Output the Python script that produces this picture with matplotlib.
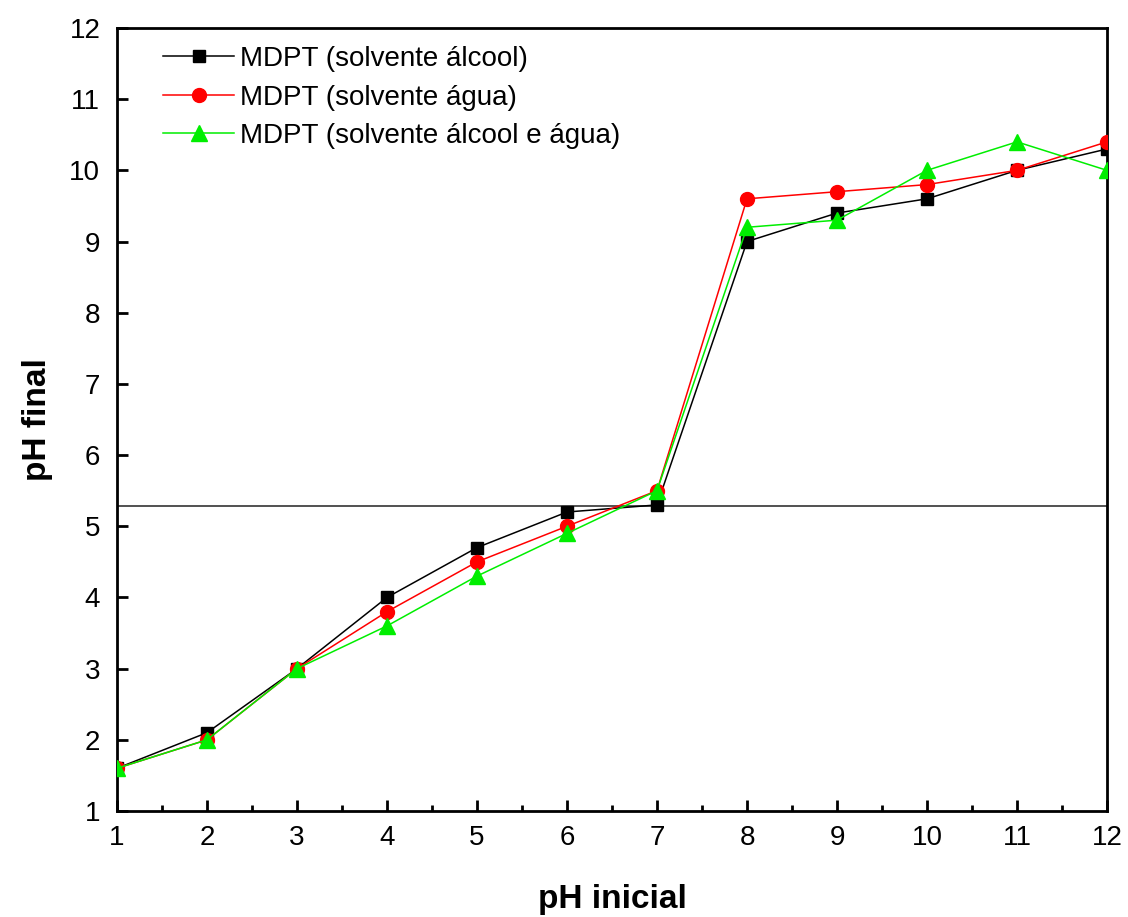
import matplotlib
matplotlib.use("Agg")
import matplotlib.pyplot as plt
from matplotlib.ticker import MultipleLocator

plt.rcParams['font.family'] = ['Liberation Sans', 'DejaVu Sans']

ph_inicial = [1, 2, 3, 4, 5, 6, 7, 8, 9, 10, 11, 12]
alcool = [1.6, 2.1, 3.0, 4.0, 4.7, 5.2, 5.3, 9.0, 9.4, 9.6, 10.0, 10.3]
agua = [1.6, 2.0, 3.0, 3.8, 4.5, 5.0, 5.5, 9.6, 9.7, 9.8, 10.0, 10.4]
alcool_agua = [1.6, 2.0, 3.0, 3.6, 4.3, 4.9, 5.5, 9.2, 9.3, 10.0, 10.4, 10.0]
ref_level = 5.28

labels = ["MDPT (solvente álcool)", "MDPT (solvente água)", "MDPT (solvente álcool e água)"]

fig = plt.figure(figsize=(11.28, 9.17), dpi=100)
ax = fig.add_axes([0.1037, 0.1156, 0.8777, 0.8539])

ax.axhline(ref_level, color='#333333', lw=1.2, zorder=1)
ax.plot(ph_inicial, alcool, color='black', lw=1.1, marker='s', ms=9, label=labels[0], zorder=3)
ax.plot(ph_inicial, agua, color='red', lw=1.1, marker='o', ms=10, label=labels[1], zorder=3)
ax.plot(ph_inicial, alcool_agua, color='#00ee00', lw=1.1, marker='^', ms=11, label=labels[2], zorder=3)

ax.set_xlim(1, 12)
ax.set_ylim(1, 12)
ax.xaxis.set_major_locator(MultipleLocator(1))
ax.xaxis.set_minor_locator(MultipleLocator(0.5))
ax.yaxis.set_major_locator(MultipleLocator(1))
ax.tick_params(axis='both', which='major', direction='in', length=8, width=2, labelsize=20, pad=10)
ax.tick_params(axis='x', which='minor', direction='in', length=4, width=2)
ax.tick_params(axis='y', which='major', pad=12)
for s in ax.spines.values():
    s.set_linewidth(2)

ax.set_xlabel("pH inicial", fontsize=24, fontweight='bold', labelpad=24)
ax.set_ylabel("pH final", fontsize=24, fontweight='bold', labelpad=12)

leg = ax.legend(loc='upper left', frameon=False, fontsize=20, bbox_to_anchor=(0.030, 0.998),
                handlelength=2.55, handletextpad=0.2, labelspacing=0.45, borderaxespad=0.2)

fig.savefig("out.png", dpi=100)
